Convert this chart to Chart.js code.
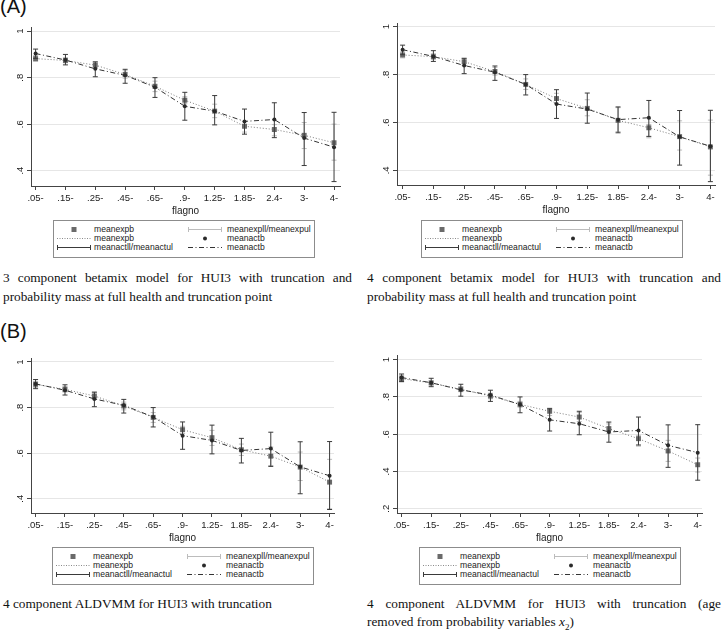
<!DOCTYPE html>
<html>
<head>
<meta charset="utf-8">
<script src="https://cdn.jsdelivr.net/npm/chart.js@4.4.1/dist/chart.umd.min.js"></script>
<style>
  body { margin: 0; background: #fff; width: 725px; height: 632px; position: relative; overflow: hidden;
         font-family: "Liberation Sans", Arial, sans-serif; }
  canvas { position: absolute; }
  .tag { position: absolute; left: 0; font-size: 20px; line-height: 20px; color: #111; }
  .legend { position: absolute; width: 262px; height: 38px; box-sizing: border-box; border: 1px solid #8c8c8c;
            font-size: 8.6px; color: #222; }
  .item { position: absolute; height: 9px; line-height: 9px; white-space: nowrap; }
  .item svg { position: absolute; left: 0; top: 0; }
  .item span { position: absolute; top: 0; }
  .cap { position: absolute; font-family: "Liberation Serif", "Times New Roman", serif; font-size: 13.3px;
         line-height: 19px; color: #111; }
  .just { text-align: justify; text-align-last: justify; }
</style>
</head>
<body>
<div class="tag" style="top:-4px">(A)</div>
<div class="tag" style="top:321px">(B)</div>

<canvas id="cA3" width="349" height="197" style="left:1px;top:21px"></canvas>
<canvas id="cA4" width="358" height="200" style="left:367px;top:17px"></canvas>
<canvas id="cB4" width="343" height="193" style="left:1px;top:352px"></canvas>
<canvas id="cB2" width="345" height="196" style="left:367px;top:349px"></canvas>

<div class="legend" id="lA3" style="left:53px;top:220px"></div>
<div class="legend" id="lA4" style="left:421px;top:220px"></div>
<div class="legend" id="lB4" style="left:52px;top:547px"></div>
<div class="legend" id="lB2" style="left:419px;top:547px"></div>

<div class="cap just" style="left:3px;top:268px;width:349px">3 component betamix model for HUI3 with truncation and</div>
<div class="cap" style="left:3px;top:287px">probability mass at full health and truncation point</div>
<div class="cap just" style="left:367px;top:268px;width:354px">4 component betamix model for HUI3 with truncation and</div>
<div class="cap" style="left:367px;top:287px">probability mass at full health and truncation point</div>
<div class="cap" style="left:3px;top:594px">4 component ALDVMM for HUI3 with truncation</div>
<div class="cap just" style="left:367px;top:594px;width:354px">4 component ALDVMM for HUI3 with truncation (age</div>
<div class="cap" style="left:367px;top:612px">removed from probability variables <i>x</i><sub style="font-size:9px">2</sub>)</div>

<script>
// flagno groups
const categories = ['.05-', '.15-', '.25-', '.45-', '.65-', '.9-', '1.25-', '1.85-', '2.4-', '3-', '4-'];

// observed HUI3 (same in every panel)
const actMean = [0.904, 0.876, 0.838, 0.810, 0.759, 0.677, 0.656, 0.612, 0.620, 0.540, 0.501];
const actLow  = [0.883, 0.855, 0.804, 0.776, 0.715, 0.617, 0.597, 0.557, 0.542, 0.422, 0.353];
const actHigh = [0.923, 0.900, 0.868, 0.836, 0.800, 0.737, 0.723, 0.665, 0.692, 0.650, 0.651];

// 3 component betamix
const expMeanA3 = [0.882, 0.874, 0.854, 0.814, 0.763, 0.703, 0.656, 0.591, 0.577, 0.552, 0.520];
const expLowA3  = [0.870, 0.864, 0.840, 0.798, 0.740, 0.688, 0.628, 0.566, 0.550, 0.495, 0.445];
const expHighA3 = [0.895, 0.886, 0.868, 0.830, 0.785, 0.718, 0.686, 0.612, 0.598, 0.607, 0.600];

// 4 component betamix
const expMeanA4 = [0.882, 0.875, 0.854, 0.813, 0.759, 0.700, 0.659, 0.609, 0.578, 0.541, 0.498];
const expLowA4  = [0.870, 0.864, 0.838, 0.798, 0.738, 0.680, 0.628, 0.562, 0.536, 0.485, 0.380];
const expHighA4 = [0.895, 0.887, 0.868, 0.830, 0.782, 0.722, 0.695, 0.662, 0.592, 0.607, 0.610];

// 4 component ALDVMM
const expMeanB4 = [0.902, 0.880, 0.851, 0.807, 0.757, 0.703, 0.668, 0.615, 0.587, 0.539, 0.473];
const expLowB4  = [0.888, 0.868, 0.836, 0.790, 0.735, 0.686, 0.634, 0.590, 0.546, 0.480, 0.356];
const expHighB4 = [0.915, 0.892, 0.866, 0.824, 0.778, 0.718, 0.700, 0.640, 0.627, 0.605, 0.573];

// 4 component ALDVMM, age removed from x2
const expMeanB2 = [0.898, 0.875, 0.841, 0.805, 0.760, 0.723, 0.692, 0.630, 0.576, 0.510, 0.436];
const expLowB2  = [0.880, 0.865, 0.828, 0.790, 0.745, 0.700, 0.668, 0.605, 0.536, 0.454, 0.397];
const expHighB2 = [0.915, 0.886, 0.855, 0.820, 0.776, 0.740, 0.716, 0.655, 0.594, 0.567, 0.472];

const yTicksA = [0.4, 0.6, 0.8, 1];
const yTicksB2 = [0.2, 0.4, 0.6, 0.8, 1];

const FONT = '"Liberation Sans", Arial, sans-serif';
const INK = '#222';
const AXIS = '#444';

const panels = [
  { id: 'cA3', legend: 'lA3', mean: expMeanA3, low: expLowA3, high: expHighA3, yTicks: yTicksA,
    yMin: 0.334, yMax: 1.018, xMin: 0.846, xMax: 11.2 },
  { id: 'cA4', legend: 'lA4', mean: expMeanA4, low: expLowA4, high: expHighA4, yTicks: yTicksA,
    yMin: 0.339, yMax: 1.0155, xMin: 0.818, xMax: 11.15 },
  { id: 'cB4', legend: 'lB4', mean: expMeanB4, low: expLowB4, high: expHighB4, yTicks: yTicksA,
    yMin: 0.3376, yMax: 1.0175, xMin: 0.844, xMax: 11.15 },
  { id: 'cB2', legend: 'lB2', mean: expMeanB2, low: expLowB2, high: expHighB2, yTicks: yTicksB2,
    yMin: 0.177, yMax: 1.025, xMin: 0.845, xMax: 11.145 }
];

function meanPoints(vals) {
  return vals.map((v, i) => ({ x: i + 1, y: v }));
}

// rcap: low-high segment per group, broken by a null point
function capPoints(lo, hi) {
  const pts = [];
  lo.forEach((v, i) => {
    pts.push({ x: i + 1, y: v }, { x: i + 1, y: hi[i] }, { x: i + 1, y: null });
  });
  return pts;
}

function fmtY(v) {
  return v === 1 ? '1' : String(v).replace(/^0/, '');
}

// Stata style vertical y labels
const yLabelPlugin = {
  id: 'yLabels',
  afterDraw(chart) {
    const y = chart.scales.y;
    const ctx = chart.ctx;
    ctx.save();
    ctx.font = '9.5px ' + FONT;
    ctx.fillStyle = INK;
    ctx.textAlign = 'center';
    ctx.textBaseline = 'middle';
    y.ticks.forEach(t => {
      ctx.save();
      ctx.translate(y.right - 10.5, y.getPixelForValue(t.value));
      ctx.rotate(-Math.PI / 2);
      ctx.fillText(fmtY(t.value), 0, 0);
      ctx.restore();
    });
    ctx.restore();
  }
};

const svgCap = c => `<svg width="34" height="9"><line x1="0.5" y1="4.5" x2="33.5" y2="4.5" stroke="${c}"/><line x1="0.5" y1="2" x2="0.5" y2="7" stroke="${c}"/><line x1="33.5" y1="2" x2="33.5" y2="7" stroke="${c}"/></svg>`;
const legendItems = [
  { sym: '<svg width="34" height="9"><rect x="14.5" y="2" width="5" height="5" fill="#6a6a6a"/></svg>', text: 'meanexpb' },
  { sym: svgCap('#bcbcbc'), text: 'meanexpll/meanexpul' },
  { sym: '<svg width="34" height="9"><line x1="0" y1="4.5" x2="34" y2="4.5" stroke="#8a8a8a" stroke-dasharray="1,1.5"/></svg>', text: 'meanexpb' },
  { sym: '<svg width="34" height="9"><circle cx="17" cy="4.5" r="2" fill="#2a2a2a"/></svg>', text: 'meanactb' },
  { sym: svgCap('#3a3a3a'), text: 'meanactll/meanactul' },
  { sym: '<svg width="34" height="9"><line x1="0" y1="4.5" x2="34" y2="4.5" stroke="#333" stroke-dasharray="5,2.5,1,2.5"/></svg>', text: 'meanactb' }
];

function buildLegend(el) {
  legendItems.forEach((it, k) => {
    const col = k % 2, row = Math.floor(k / 2);
    const d = document.createElement('div');
    d.className = 'item';
    d.style.left = (col ? 134 : 3) + 'px';
    d.style.top = (3.5 + row * 9.3) + 'px';
    d.innerHTML = it.sym + `<span style="left:${col ? 39 : 37}px">${it.text}</span>`;
    el.appendChild(d);
  });
}

panels.forEach(p => {
  new Chart(document.getElementById(p.id), {
    type: 'line',
    data: {
      datasets: [
        { data: capPoints(p.low, p.high), borderColor: '#bcbcbc', borderWidth: 1, spanGaps: false,
          pointStyle: 'line', pointRadius: 2.5, pointBorderColor: '#bcbcbc', pointBorderWidth: 1, order: 4 },
        { data: meanPoints(p.mean), borderColor: '#7a7a7a', borderWidth: 1, borderDash: [1, 2],
          pointStyle: 'rect', pointRadius: 3.5, pointBackgroundColor: '#6a6a6a', pointBorderWidth: 0, order: 3 },
        { data: capPoints(actLow, actHigh), borderColor: '#3a3a3a', borderWidth: 1, spanGaps: false,
          pointStyle: 'line', pointRadius: 2.5, pointBorderColor: '#3a3a3a', pointBorderWidth: 1, order: 2 },
        { data: meanPoints(actMean), borderColor: '#333', borderWidth: 1, borderDash: [5, 2.5, 1, 2.5],
          pointStyle: 'circle', pointRadius: 2, pointBackgroundColor: '#2a2a2a', pointBorderWidth: 0, order: 1 }
      ]
    },
    options: {
      responsive: false,
      animation: false,
      events: [],
      layout: { padding: { top: 6, right: 10, left: 0, bottom: 0 } },
      plugins: { legend: { display: false }, tooltip: { enabled: false } },
      elements: { line: { tension: 0 } },
      scales: {
        x: {
          type: 'linear',
          min: p.xMin,
          max: p.xMax,
          afterBuildTicks: s => { s.ticks = categories.map((c, i) => ({ value: i + 1 })); },
          afterFit: s => { s.height = 32; },
          ticks: { callback: v => categories[v - 1], font: { size: 9.5, family: FONT }, color: INK,
                   padding: 2.5, maxRotation: 0, autoSkip: false },
          grid: { drawOnChartArea: false, drawTicks: true, tickLength: 4, tickColor: AXIS },
          border: { display: true, color: AXIS, width: 1 },
          title: { display: true, text: 'flagno', font: { size: 10, family: FONT }, color: INK,
                   padding: { top: 0, bottom: 1 } }
        },
        y: {
          min: p.yMin,
          max: p.yMax,
          afterBuildTicks: s => { s.ticks = p.yTicks.map(v => ({ value: v })); },
          afterFit: s => { s.width = 30; },
          ticks: { display: false },
          grid: { color: '#e6e6e6', drawTicks: true, tickLength: 4, tickColor: AXIS },
          border: { display: true, color: AXIS, width: 1 }
        }
      }
    },
    plugins: [yLabelPlugin]
  });
  buildLegend(document.getElementById(p.legend));
});
</script>
</body>
</html>
